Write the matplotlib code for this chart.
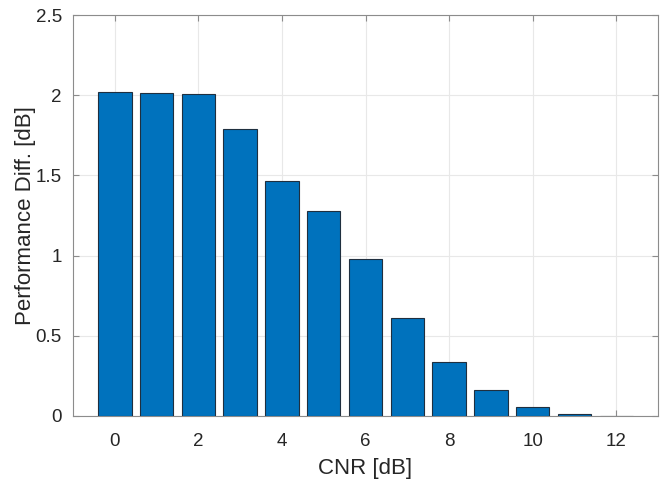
import matplotlib.pyplot as plt
import numpy as np

cnr = [0, 1, 2, 3, 4, 5, 6, 7, 8, 9, 10, 11, 12]
diff = [2.02, 2.013, 2.007, 1.79, 1.465, 1.278, 0.977, 0.611, 0.337, 0.162, 0.056, 0.012, 0.0]

plt.rcParams['font.family'] = ['Liberation Sans', 'DejaVu Sans']

fig = plt.figure(figsize=(6.6, 4.83), dpi=100)
ax = fig.add_axes([73 / 660, 1 - 416 / 483, (658 - 73) / 660, (416 - 15) / 483])

ax.bar(cnr, diff, width=0.8, color='#0072BD', edgecolor='#1f2f3f', linewidth=0.8, zorder=3)

ax.set_xlim(-1, 13)
ax.set_ylim(0, 2.5)
ax.set_xticks([0, 2, 4, 6, 8, 10, 12])
ax.set_yticks([0, 0.5, 1, 1.5, 2, 2.5])
ax.set_yticklabels(['0', '0.5', '1', '1.5', '2', '2.5'])
ax.grid(True, color='#e8e8e8', linewidth=0.8, zorder=0)
ax.tick_params(direction='in', length=4, width=0.8, colors='#8c8c8c',
               labelcolor='#262626', labelsize=13.5, top=True, right=True)
ax.tick_params(axis='x', pad=12)
ax.tick_params(axis='y', pad=8)
for s in ax.spines.values():
    s.set_color('#8c8c8c')
    s.set_linewidth(0.8)
ax.set_xlabel('CNR [dB]', fontsize=16, color='#262626', labelpad=6)
ax.set_ylabel('Performance Diff. [dB]', fontsize=16, color='#262626', labelpad=0)

fig.savefig('out.png', dpi=100)
